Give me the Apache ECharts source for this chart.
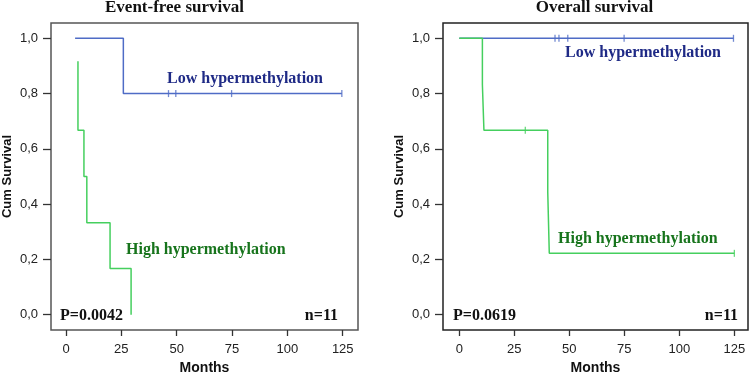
<!DOCTYPE html>
<html>
<head>
<meta charset="utf-8">
<script src="https://cdn.jsdelivr.net/npm/echarts@6/dist/echarts.min.js"></script>
<style>
  html, body { margin: 0; padding: 0; background: #fff; }
  #chart { width: 750px; height: 372px; }
</style>
</head>
<body>
<div id="chart"></div>
<script>
// tick labels
const monthTicks = [0, 25, 50, 75, 100, 125];
const survTicks = [0, 0.2, 0.4, 0.6, 0.8, 1.0];

// event-free survival: [month, cum survival]
const efsLow = [[4.1, 1], [25.9, 0.8], [124.6, 0.8]];
const efsLowCensor = [[46.3, 0.8], [49.6, 0.8], [74.8, 0.8], [124.6, 0.8]];
const efsHigh = [[5.4, 0.917], [5.4, 0.667], [8.1, 0.5], [9.4, 0.333], [19.9, 0.167], [29.4, 0]];
const efsHighCensor = [];

// overall survival
const osLow = [[0, 1], [124.6, 1]];
const osLowCensor = [[43.5, 1], [45.3, 1], [49.3, 1], [74.9, 1], [124.6, 1]];
const osHigh = [[0, 1], [10.5, 0.833], [11.2, 0.667], [40.2, 0.444], [40.9, 0.222], [125, 0.222]];
const osHighCensor = [[30, 0.667], [125, 0.222]];

const blue = "#4f6cc6";
const green = "#45cf5e";
const serif = "Liberation Serif";
const sans = "Liberation Sans";

function xAxis(i, min, max) {
  return {
    gridIndex: i,
    type: "value",
    min: min,
    max: max,
    name: "Months",
    nameLocation: "middle",
    nameGap: 29,
    nameTextStyle: { fontFamily: sans, fontWeight: "bold", fontSize: 14, color: "#111" },
    axisLine: { show: false, onZero: false },
    splitLine: { show: false },
    axisTick: { show: true, length: 6, customValues: monthTicks, lineStyle: { color: "#333", width: 1.3 } },
    axisLabel: { customValues: monthTicks, margin: 13, fontFamily: sans, fontSize: 13, color: "#222" },
  };
}

function yAxis(i) {
  return {
    gridIndex: i,
    type: "value",
    min: -0.0554,
    max: 1.0554,
    name: "Cum Survival",
    nameLocation: "middle",
    nameGap: 37,
    nameTextStyle: { fontFamily: sans, fontWeight: "bold", fontSize: 13, color: "#111" },
    axisLine: { show: false, onZero: false },
    splitLine: { show: false },
    axisTick: { show: true, length: 8, customValues: survTicks, lineStyle: { color: "#333", width: 1.3 } },
    axisLabel: {
      customValues: survTicks,
      margin: 13,
      fontFamily: sans,
      fontSize: 13,
      color: "#222",
      formatter: (v) => v.toFixed(1).replace(".", ","),
    },
  };
}

function curve(i, data, color) {
  return {
    type: "line",
    xAxisIndex: i,
    yAxisIndex: i,
    step: "end",
    data: data,
    showSymbol: false,
    silent: true,
    lineStyle: { color: color, width: 1.5 },
  };
}

function censor(i, data, color) {
  return {
    type: "scatter",
    xAxisIndex: i,
    yAxisIndex: i,
    data: data,
    symbol: "rect",
    symbolSize: [1.3, 7],
    itemStyle: { color: color },
    silent: true,
  };
}

function label(x, y, str, color, size, align) {
  return {
    type: "text",
    x: x,
    y: y,
    style: {
      text: str,
      fill: color,
      font: "bold " + size + "px '" + serif + "'",
      textAlign: align || "left",
      textVerticalAlign: "middle",
    },
  };
}

var myChart = echarts.init(document.getElementById("chart"));
var option = {
  animation: false,
  grid: [
    { left: 51, top: 23, width: 307, height: 307, outerBoundsMode: "none", show: true, borderColor: "#555", borderWidth: 1.5, backgroundColor: "#fff" },
    { left: 443, top: 23, width: 305, height: 307, outerBoundsMode: "none", show: true, borderColor: "#222", borderWidth: 1.5, backgroundColor: "#fff" },
  ],
  xAxis: [xAxis(0, -6.78, 131.9), xAxis(1, -7.4, 131.2)],
  yAxis: [yAxis(0), yAxis(1)],
  series: [
    curve(0, efsLow, blue),
    censor(0, efsLowCensor, blue),
    curve(0, efsHigh, green),
    censor(0, efsHighCensor, green),
    curve(1, osLow, blue),
    censor(1, osLowCensor, blue),
    curve(1, osHigh, green),
    censor(1, osHighCensor, green),
  ],
  graphic: [
    label(174.5, 8, "Event-free survival", "#111", 17, "center"),
    label(594.5, 8, "Overall survival", "#111", 17, "center"),
    label(167, 79, "Low hypermethylation", "#1f2a86", 16),
    label(126, 250, "High hypermethylation", "#17741c", 16),
    label(565, 53, "Low hypermethylation", "#1f2a86", 16),
    label(558, 239, "High hypermethylation", "#17741c", 16),
    label(60, 316, "P=0.0042", "#111", 16),
    label(338, 316, "n=11", "#111", 16, "right"),
    label(453, 316, "P=0.0619", "#111", 16),
    label(738, 316, "n=11", "#111", 16, "right"),
  ],
};
option && myChart.setOption(option);
</script>
</body>
</html>
